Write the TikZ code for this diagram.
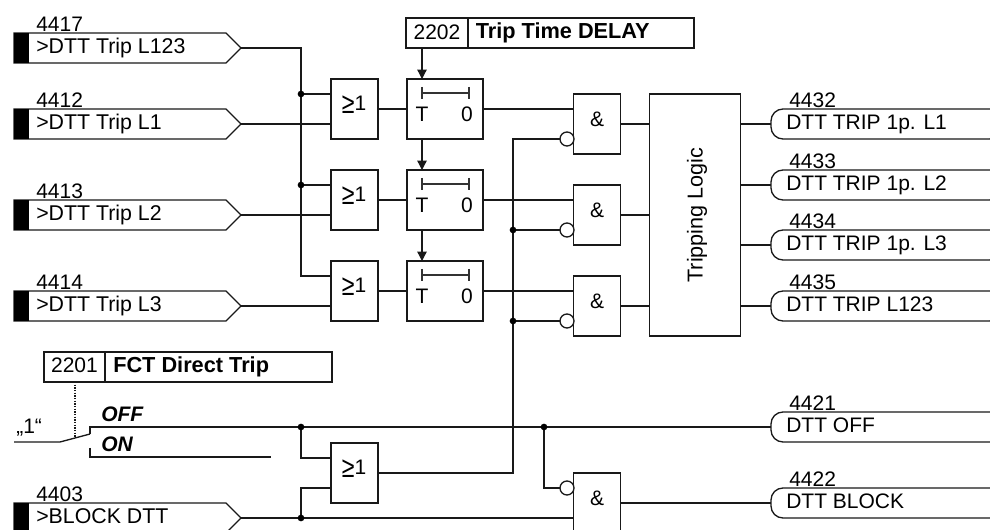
\documentclass[tikz,border=0pt]{standalone}
\usepackage{fontspec}
\setmainfont{Liberation Sans}
\usetikzlibrary{arrows.meta,shapes.symbols}
\tikzset{
  wire/.style={line width=1pt,draw=black!90},
  arr/.style={wire,-{Triangle[length=7pt,width=7pt]}},
  box/.style={draw=black!90,line width=1pt,fill=white,inner sep=0pt,outer sep=0pt},
  gate/.style={box,minimum width=35.25pt,minimum height=45pt},
  timer/.style={box,minimum width=57pt,minimum height=45pt},
  inshape/.style={box,signal,signal to=east,signal pointer angle=90,minimum width=170.25pt,minimum height=22.5pt,anchor=west},
  outshape/.style={box,rounded corners=9pt,minimum width=173pt,minimum height=22.5pt,anchor=west},
  blackbar/.style={fill=black,inner sep=0pt,outer sep=0pt,minimum width=11.25pt,minimum height=22.5pt,anchor=west},
  bubble/.style={box,circle,minimum size=10.5pt},
  dot/.style={circle,fill=black,inner sep=0pt,minimum size=5pt},
  txt/.style={font=\fontsize{15.75}{18}\selectfont,inner sep=0pt,anchor=base west},
  txtin/.style={font=\fontsize{16}{18}\selectfont,inner sep=0pt,anchor=base west},
  txtc/.style={font=\fontsize{15.75}{18}\selectfont,inner sep=0pt},
  txtb/.style={txtc,anchor=base},
  bold/.style={inner sep=0pt,anchor=base west,font=\fontsize{16.3}{18}\selectfont\bfseries},
  boldit/.style={txt,font=\fontsize{15.75}{18}\selectfont\bfseries\itshape},
}
\begin{document}
\begin{tikzpicture}[x=0.75pt,y=-0.75pt]
\useasboundingbox (0,0) rectangle (990,530);
% input shapes
\foreach \n/\y/\num/\lab in {a/48/4417/{>DTT Trip L123},b/124/4412/{>DTT Trip L1},c/215/4413/{>DTT Trip L2},d/306/4414/{>DTT Trip L3},e/518/4403/{>BLOCK DTT}}{
  \node[inshape] (in\n) at (14,\y) {};
  \node[blackbar] (bar\n) at (14,\y) {};
  \node[txt] (num\n) at (36,\y-16) {\num};
  \node[txtin] (lab\n) at (36,\y+6) {\lab};
}
% OR gates
\foreach \n/\y in {1/109,2/200,3/291,4/473}{
  \node[gate] (or\n) at (354.5,\y) {};
  \node[txtb] (ort\n) at (354,\y+2) {\raisebox{-2.2pt}{\scalebox{1.1}[1.4]{≥}}1};
}
% timers
\foreach \n/\y in {1/109,2/200,3/291}{
  \node[timer] (t\n) at (445,\y) {};
  \node[txtb] (tT\n) at (422,\y+13) {T};
  \node[txtb] (tZ\n) at (467,\y+13) {0};
  \draw[line width=0.8pt,draw=black!80] (422,\y-22) -- (422,\y-10) (422,\y-16) -- (469,\y-16) (469,\y-22) -- (469,\y-10);
}
% AND gates
\foreach \n/\y/\b in {1/124/139,2/215/230,3/306/321,4/503/488}{
  \node[gate] (and\n) at (597,\y) {};
  \node[txtb] (andt\n) at (597,\y+3) {\&};
  \node[bubble] (bub\n) at (567,\b) {};
}
% tripping logic
\node[box,minimum width=68.25pt,minimum height=181.5pt] (logic) at (695,215) {};
\node[txtc,rotate=90,font=\fontsize{16.2}{18}\selectfont] (logict) at (697,215) {Tripping Logic};
% output shapes
\foreach \n/\y/\num/\lab in {p/124/4432/{DTT TRIP 1p. L1},q/185/4433/{DTT TRIP 1p. L2},r/245/4434/{DTT TRIP 1p. L3},s/306/4435/{DTT TRIP L123},u/427/4421/{DTT OFF},v/503/4422/{DTT BLOCK}}{
  \node[outshape] (out\n) at (771,\y) {};
  \node[txt] (onum\n) at (789,\y-16) {\num};
  \node[txt] (olab\n) at (786,\y+6) {\lab};
}
% parameter boxes
\node[box,minimum width=46.5pt,minimum height=22.5pt,anchor=west] (dnum) at (406,33) {};
\node[box,minimum width=169.5pt,minimum height=22.5pt,anchor=west] (dtxt) at (468,33) {};
\node[txtb] (dnumt) at (437,40) {2202};
\node[bold] (dtxtt) at (475.5,39) {Trip Time DELAY};
\node[box,minimum width=45.75pt,minimum height=22.5pt,anchor=west] (fnum) at (44,367) {};
\node[box,minimum width=170.25pt,minimum height=22.5pt,anchor=west] (ftxt) at (105,367) {};
\node[txtb] (fnumt) at (74.5,373) {2201};
\node[bold] (ftxtt) at (113,373) {FCT Direct Trip};
% switch texts
\node[boldit] (off) at (101,422) {OFF};
\node[boldit] (on) at (101,452) {ON};
\node[txt] (one) at (16,434) {„1“};
% named points
\coordinate (j1) at (301,94);
\coordinate (j2) at (301,185);
\coordinate (j3) at (301,276);
\coordinate (joff) at (301,427);
\coordinate (jblk) at (301,518);
\coordinate (jand) at (544,427);
\coordinate (k1) at (513,230);
\coordinate (k2) at (513,321);
\coordinate (k0) at (513,139);
\coordinate (xa) at (422,0);
\coordinate (sw0) at (14,442);
\coordinate (sw1) at (60,442);
\coordinate (sw2) at (90,434);
\coordinate (son) at (90,448);
\coordinate (sond) at (90,457);
\coordinate (sonend) at (271,457);
\coordinate (soff) at (90,427);
\coordinate (dota) at (75,382);
\coordinate (dotb) at (75,438);
\coordinate (o4a) at (301,458);
\coordinate (o4b) at (301,488);
% wires: inputs
\draw[wire] (ina.east) -| (j3) -- (j3 -| or3.west);
\draw[wire] (j1) -- (j1 -| or1.west);
\draw[wire] (j2) -- (j2 -| or2.west);
\draw[wire] (inb.east) -- (inb.east -| or1.west);
\draw[wire] (inc.east) -- (inc.east -| or2.west);
\draw[wire] (ind.east) -- (ind.east -| or3.west);
\draw[wire] (or1.east) -- (t1.west);
\draw[wire] (or2.east) -- (t2.west);
\draw[wire] (or3.east) -- (t3.west);
\draw[wire] (t1.east) -- (t1.east -| and1.west);
\draw[wire] (t2.east) -- (t2.east -| and2.west);
\draw[wire] (t3.east) -- (t3.east -| and3.west);
\draw[wire] (and1.east) -- (and1.east -| logic.west);
\draw[wire] (and2.east) -- (and2.east -| logic.west);
\draw[wire] (and3.east) -- (and3.east -| logic.west);
\draw[wire] (outp.west -| logic.east) -- (outp.west);
\draw[wire] (outq.west -| logic.east) -- (outq.west);
\draw[wire] (outr.west -| logic.east) -- (outr.west);
\draw[wire] (outs.west -| logic.east) -- (outs.west);
% arrows
\draw[arr] (dnum.south -| xa) -- (t1.north -| xa);
\draw[arr] (t1.south -| xa) -- (t2.north -| xa);
\draw[arr] (t2.south -| xa) -- (t3.north -| xa);
% block bus
\draw[wire] (or4.east) -| (k0) -- (bub1.west);
\draw[wire] (k1) -- (bub2.west);
\draw[wire] (k2) -- (bub3.west);
% switch
\draw[wire] (sw0) -- (sw1) -- (sw2);
\draw[wire] (sw2) -- (soff) -- (outu.west);
\draw[wire] (son) -- (sond) -- (sonend);
\draw[wire,densely dotted] (dota) -- (dotb);
\draw[wire] (joff) -- (o4a) -- (o4a -| or4.west);
\draw[wire] (jblk) -- (o4b) -- (o4b -| or4.west);
\draw[wire] (ine.east) -- (ine.east -| and4.west);
\draw[wire] (jand) |- (bub4.west);
\draw[wire] (and4.east) -- (outv.west);
% dots
\foreach \p/\nm in {j1/d1,j2/d2,joff/d3,jblk/d4,jand/d5,k1/d6,k2/d7}{
  \node[dot] (\nm) at (\p) {};
}
\end{tikzpicture}
\end{document}
